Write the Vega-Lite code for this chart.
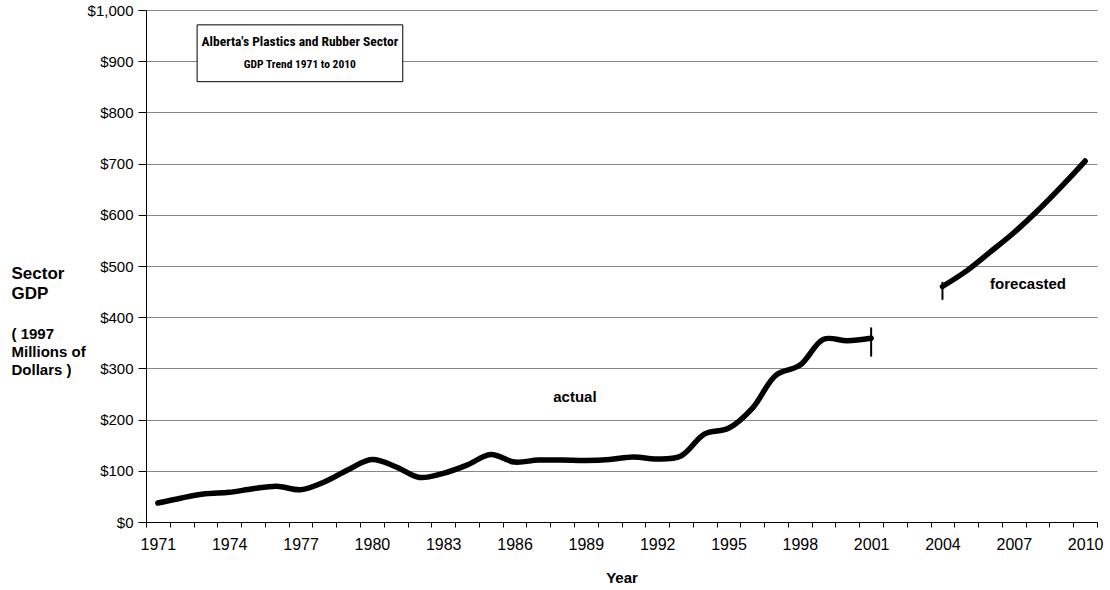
{
  "$schema": "https://vega.github.io/schema/vega-lite/v6.json",
  "width": 951,
  "height": 512,
  "autosize": "none",
  "padding": {"left": 146, "top": 10, "right": 13, "bottom": 68},
  "background": "white",
  "config": {
    "font": "Liberation Sans",
    "view": {"stroke": null},
    "axis": {"labelFont": "Liberation Sans", "titleFont": "Liberation Sans", "labelColor": "black", "titleColor": "black"}
  },
  "datasets": {
    "gdp": [
      {"year": 1971, "gdp": 37, "series": "actual"},
      {"year": 1972, "gdp": 47, "series": "actual"},
      {"year": 1973, "gdp": 55, "series": "actual"},
      {"year": 1974, "gdp": 58, "series": "actual"},
      {"year": 1975, "gdp": 65, "series": "actual"},
      {"year": 1976, "gdp": 70, "series": "actual"},
      {"year": 1977, "gdp": 63, "series": "actual"},
      {"year": 1978, "gdp": 78, "series": "actual"},
      {"year": 1979, "gdp": 102, "series": "actual"},
      {"year": 1980, "gdp": 122, "series": "actual"},
      {"year": 1981, "gdp": 108, "series": "actual"},
      {"year": 1982, "gdp": 87, "series": "actual"},
      {"year": 1983, "gdp": 95, "series": "actual"},
      {"year": 1984, "gdp": 111, "series": "actual"},
      {"year": 1985, "gdp": 132, "series": "actual"},
      {"year": 1986, "gdp": 117, "series": "actual"},
      {"year": 1987, "gdp": 121, "series": "actual"},
      {"year": 1988, "gdp": 121, "series": "actual"},
      {"year": 1989, "gdp": 120, "series": "actual"},
      {"year": 1990, "gdp": 122, "series": "actual"},
      {"year": 1991, "gdp": 127, "series": "actual"},
      {"year": 1992, "gdp": 123, "series": "actual"},
      {"year": 1993, "gdp": 129, "series": "actual"},
      {"year": 1994, "gdp": 172, "series": "actual"},
      {"year": 1995, "gdp": 183, "series": "actual"},
      {"year": 1996, "gdp": 222, "series": "actual"},
      {"year": 1997, "gdp": 287, "series": "actual"},
      {"year": 1998, "gdp": 306, "series": "actual"},
      {"year": 1999, "gdp": 357, "series": "actual"},
      {"year": 2000, "gdp": 354, "series": "actual"},
      {"year": 2001, "gdp": 359, "series": "actual"},
      {"year": 2004, "gdp": 460, "series": "forecasted"},
      {"year": 2005, "gdp": 490, "series": "forecasted"},
      {"year": 2006, "gdp": 527, "series": "forecasted"},
      {"year": 2007, "gdp": 565, "series": "forecasted"},
      {"year": 2008, "gdp": 608, "series": "forecasted"},
      {"year": 2009, "gdp": 655, "series": "forecasted"},
      {"year": 2010, "gdp": 705, "series": "forecasted"}
    ],
    "bars": [
      {"year": 2001, "low": 323, "high": 380},
      {"year": 2004, "low": 434, "high": 469}
    ],
    "one": [{}]
  },
  "resolve": {"axis": {"y": "independent"}},
  "layer": [
    {
      "data": {"name": "gdp"},
      "mark": {"type": "line", "color": "black", "strokeWidth": 5.5, "interpolate": "catmull-rom", "strokeCap": "round"},
      "encoding": {
        "x": {
          "field": "year", "type": "quantitative",
          "scale": {"domain": [1970.5, 2010.5], "nice": false, "zero": false},
          "axis": {
            "title": "Year", "titleFontSize": 15, "titleFontWeight": "bold",
            "titleY": 55, "titleBaseline": "middle",
            "values": [1970.5,1971.5,1972.5,1973.5,1974.5,1975.5,1976.5,1977.5,1978.5,1979.5,1980.5,1981.5,1982.5,1983.5,1984.5,1985.5,1986.5,1987.5,1988.5,1989.5,1990.5,1991.5,1992.5,1993.5,1994.5,1995.5,1996.5,1997.5,1998.5,1999.5,2000.5,2001.5,2002.5,2003.5,2004.5,2005.5,2006.5,2007.5,2008.5,2009.5,2010.5],
            "tickCount": 200,
            "labelExpr": "((datum.value + 0.5 - 1971) % 3 == 0) ? format(datum.value + 0.5, 'd') : ''",
            "labelOffset": 11.9,
            "labelFlush": false,
            "labelOverlap": false,
            "labelFontSize": 16,
            "labelPadding": 9,
            "labelBaseline": "top",
            "tickSize": 5,
            "tickColor": "black",
            "domainColor": "black",
            "grid": false
          }
        },
        "y": {
          "field": "gdp", "type": "quantitative",
          "scale": {"domain": [0, 1000], "nice": false},
          "axis": {
            "orient": "left",
            "values": [0,100,200,300,400,500,600,700,800,900,1000],
            "tickCount": 50,
            "format": "$,.0f",
            "labelFontSize": 15,
            "labelPadding": 5,
            "tickSize": 8,
            "tickColor": "black",
            "domainColor": "black",
            "grid": true,
            "gridColor": "#888888",
            "gridWidth": 1,
            "title": ["Sector", "GDP"],
            "titleFontSize": 17,
            "titleFontWeight": "bold",
            "titleAngle": 0,
            "titleAlign": "left",
            "titleBaseline": "alphabetic",
            "titleLineHeight": 20,
            "titleX": -135,
            "titleY": 268
          }
        },
        "detail": {"field": "series", "type": "nominal"}
      }
    },
    {
      "data": {"name": "bars"},
      "mark": {"type": "rule", "color": "black", "strokeWidth": 2},
      "encoding": {
        "x": {"field": "year", "type": "quantitative"},
        "y": {
          "field": "low", "type": "quantitative",
          "axis": {
            "orient": "left",
            "labels": false, "ticks": false, "domain": false, "grid": false,
            "title": ["( 1997", "Millions of", "Dollars )"],
            "titleFontSize": 15,
            "titleFontWeight": "bold",
            "titleAngle": 0,
            "titleAlign": "left",
            "titleBaseline": "alphabetic",
            "titleLineHeight": 18,
            "titleX": -135,
            "titleY": 328
          }
        },
        "y2": {"field": "high"}
      }
    },
    {
      "data": {"name": "one"},
      "mark": {"type": "rect", "fill": "white", "stroke": "black", "strokeWidth": 1},
      "encoding": {
        "x": {"datum": 1972.65, "type": "quantitative"},
        "x2": {"datum": 1981.3},
        "y": {"datum": 971, "type": "quantitative", "axis": null},
        "y2": {"datum": 860}
      }
    },
    {
      "data": {"name": "one"},
      "mark": {"type": "text", "text": "Alberta's Plastics and Rubber Sector", "font": "Roboto Condensed, Liberation Sans", "fontSize": 13.5, "fontWeight": "bold", "align": "center", "baseline": "middle", "color": "black"},
      "encoding": {
        "x": {"datum": 1976.97, "type": "quantitative"},
        "y": {"datum": 937, "type": "quantitative", "axis": null}
      }
    },
    {
      "data": {"name": "one"},
      "mark": {"type": "text", "text": "GDP Trend  1971 to 2010", "font": "Roboto Condensed, Liberation Sans", "fontSize": 11.5, "fontWeight": "bold", "align": "center", "baseline": "middle", "color": "black"},
      "encoding": {
        "x": {"datum": 1976.97, "type": "quantitative"},
        "y": {"datum": 892, "type": "quantitative", "axis": null}
      }
    },
    {
      "data": {"name": "one"},
      "mark": {"type": "text", "text": "actual", "fontSize": 15, "fontWeight": "bold", "align": "center", "baseline": "middle", "color": "black"},
      "encoding": {
        "x": {"datum": 1988.54, "type": "quantitative"},
        "y": {"datum": 244, "type": "quantitative", "axis": null}
      }
    },
    {
      "data": {"name": "one"},
      "mark": {"type": "text", "text": "forecasted", "fontSize": 15, "fontWeight": "bold", "align": "center", "baseline": "middle", "color": "black"},
      "encoding": {
        "x": {"datum": 2007.6, "type": "quantitative"},
        "y": {"datum": 465, "type": "quantitative", "axis": null}
      }
    }
  ]
}
